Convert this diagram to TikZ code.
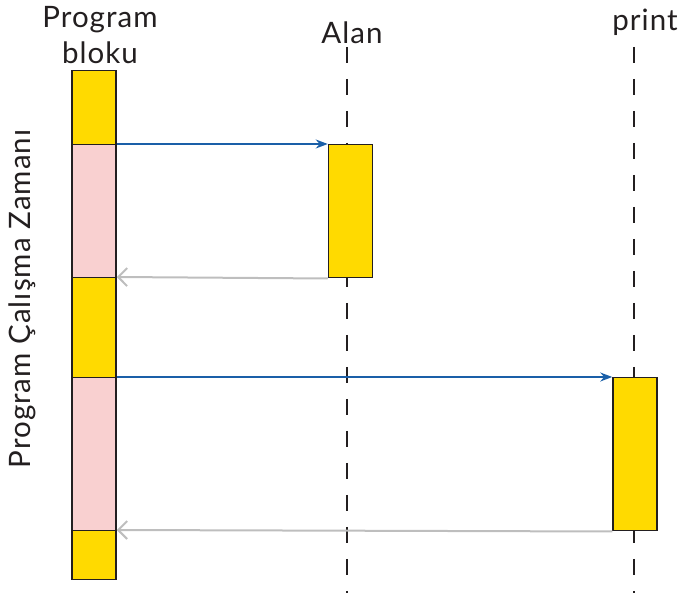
\documentclass[tikz,border=0pt]{standalone}
\usepackage{fontspec}
\setmainfont{Lato}[LetterSpace=3.5]
\usetikzlibrary{positioning,arrows.meta}
\definecolor{runyellow}{HTML}{FFDA00}
\definecolor{waitpink}{HTML}{F9D0D0}
\definecolor{boxline}{HTML}{231F20}
\definecolor{callblue}{HTML}{1A5FA8}
\definecolor{retgray}{HTML}{BEBEBE}

\begin{document}
\begin{tikzpicture}[x=1pt, y=-1pt,
  runbox/.style={draw=boxline, fill=runyellow, line width=1.5pt, minimum width=44pt,
    inner sep=0pt, anchor=north},
  waitbox/.style={runbox, fill=waitpink},
  lifeline/.style={boxline, line width=1.5pt, dash pattern=on 16pt off 16pt},
  call/.style={-{Stealth[length=12pt, width=9pt]}, callblue, line width=1.6pt},
  reply/.style={-{Straight Barb[length=9pt, width=18pt]}, retgray, line width=2pt},
  lbl/.style={font=\fontsize{29.5}{36}\selectfont, text=boxline, align=center, inner sep=0pt}]
  \useasboundingbox (0,0) rectangle (681,593);
  % lifelines first, boxes sit on top
  \coordinate (alantop) at (347,47);
  \coordinate (alanend) at (347,593);
  \coordinate (printtop) at (634,47);
  \coordinate (printend) at (634,593);
  \draw[lifeline] (alantop) -- (alanend);
  \draw[lifeline] (printtop) -- (printend);
  % program block
  \node[runbox, minimum height=74pt] (p1) at (94,70) {};
  \node[waitbox, minimum height=133pt] (p2) at (94,144) {};
  \node[runbox, minimum height=100pt] (p3) at (94,277) {};
  \node[waitbox, minimum height=153pt] (p4) at (94,377) {};
  \node[runbox, minimum height=49pt] (p5) at (94,530) {};
  % called functions
  \node[runbox, minimum height=133pt] (alan) at (350.5,144) {};
  \node[runbox, minimum height=153pt] (prt) at (635,377) {};
  % calls and returns
  \draw[call] (p2.north east) -- (alan.north west);
  \draw[reply] (alan.south west) -- (p3.north east);
  \draw[call] (p4.north east) -- (prt.north west);
  \draw[reply] (prt.south west) -- (p5.north east);
  % labels
  \node[lbl] (blocklbl) at (100,35) {Program\\bloku};
  \node[lbl] (alanlbl) at (352,33) {Alan};
  \node[lbl] (printlbl) at (645,22) {print};
  \node[lbl, rotate=90] (timelbl) at (22,299) {Program Çalışma Zamanı};
\end{tikzpicture}
\end{document}
